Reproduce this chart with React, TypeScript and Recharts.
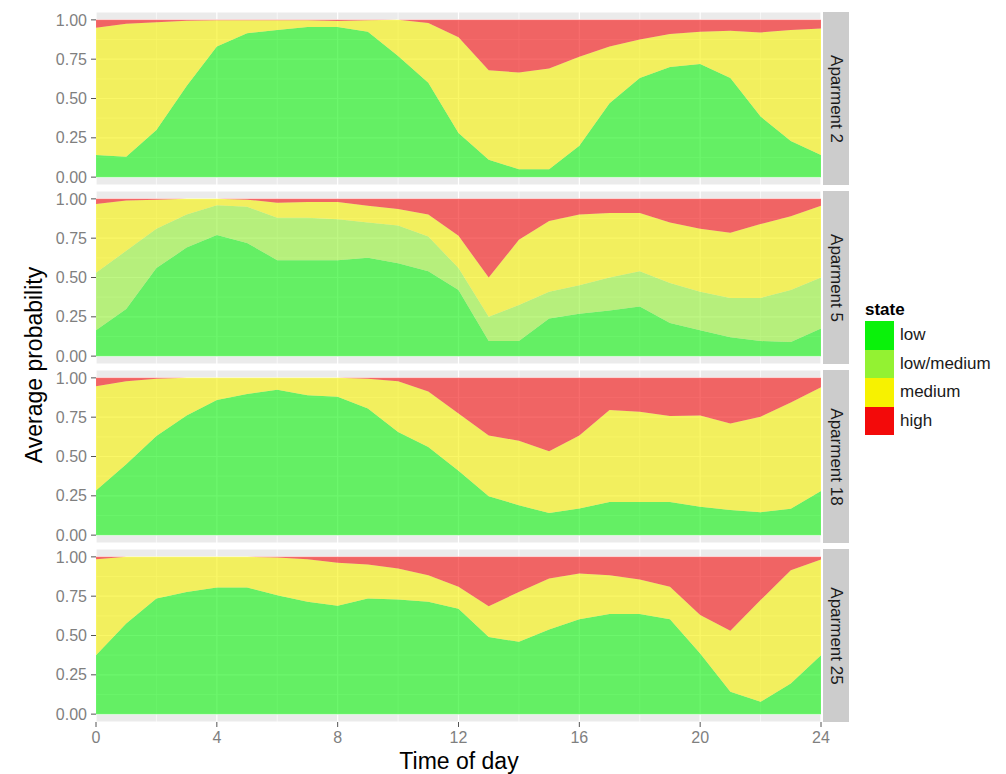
import React from "react";
import { Area, AreaChart, CartesianGrid, XAxis, YAxis } from "recharts";

const hours = [0, 1, 2, 3, 4, 5, 6, 7, 8, 9, 10, 11, 12, 13, 14, 15, 16, 17, 18, 19, 20, 21, 22, 23, 24];

// Aparment 2
const lowA2 = [0.14, 0.13, 0.3, 0.58, 0.83, 0.915, 0.935, 0.955, 0.955, 0.925, 0.77, 0.6, 0.28, 0.11, 0.05, 0.05, 0.2, 0.47, 0.63, 0.7, 0.72, 0.63, 0.385, 0.23, 0.14];
const lowMedA2 = [0, 0, 0, 0, 0, 0, 0, 0, 0, 0, 0, 0, 0, 0, 0, 0, 0, 0, 0, 0, 0, 0, 0, 0, 0];
const mediumA2 = [0.81, 0.845, 0.685, 0.415, 0.167, 0.083, 0.063, 0.043, 0.038, 0.073, 0.23, 0.38, 0.61, 0.57, 0.615, 0.64, 0.565, 0.36, 0.245, 0.21, 0.205, 0.3, 0.535, 0.705, 0.805];
const highA2 = [0.05, 0.025, 0.015, 0.005, 0.003, 0.002, 0.002, 0.002, 0.007, 0.002, 0, 0.02, 0.11, 0.32, 0.335, 0.31, 0.235, 0.17, 0.125, 0.09, 0.075, 0.07, 0.08, 0.065, 0.055];

// Aparment 5
const lowA5 = [0.165, 0.3, 0.56, 0.69, 0.77, 0.72, 0.61, 0.61, 0.61, 0.625, 0.59, 0.54, 0.42, 0.096, 0.096, 0.24, 0.27, 0.29, 0.315, 0.21, 0.165, 0.12, 0.096, 0.09, 0.175];
const lowMedA5 = [0.365, 0.37, 0.25, 0.21, 0.19, 0.23, 0.27, 0.27, 0.26, 0.225, 0.24, 0.22, 0.14, 0.154, 0.229, 0.17, 0.18, 0.21, 0.225, 0.255, 0.245, 0.25, 0.274, 0.33, 0.325];
const mediumA5 = [0.438, 0.32, 0.185, 0.1, 0.04, 0.045, 0.095, 0.1, 0.11, 0.107, 0.105, 0.14, 0.205, 0.25, 0.415, 0.45, 0.45, 0.41, 0.37, 0.385, 0.4, 0.415, 0.47, 0.47, 0.457];
const highA5 = [0.032, 0.01, 0.005, 0, 0, 0.005, 0.025, 0.02, 0.02, 0.043, 0.065, 0.1, 0.235, 0.5, 0.26, 0.14, 0.1, 0.09, 0.09, 0.15, 0.19, 0.215, 0.16, 0.11, 0.043];

// Aparment 18
const lowA18 = [0.284, 0.45, 0.63, 0.76, 0.86, 0.897, 0.925, 0.89, 0.88, 0.806, 0.656, 0.56, 0.41, 0.247, 0.19, 0.14, 0.17, 0.21, 0.21, 0.21, 0.18, 0.16, 0.146, 0.168, 0.28];
const lowMedA18 = [0, 0, 0, 0, 0, 0, 0, 0, 0, 0, 0, 0, 0, 0, 0, 0, 0, 0, 0, 0, 0, 0, 0, 0, 0];
const mediumA18 = [0.662, 0.528, 0.364, 0.24, 0.14, 0.103, 0.075, 0.11, 0.12, 0.189, 0.322, 0.354, 0.364, 0.387, 0.41, 0.393, 0.464, 0.586, 0.575, 0.547, 0.58, 0.55, 0.607, 0.675, 0.66];
const highA18 = [0.054, 0.022, 0.006, 0, 0, 0, 0, 0, 0, 0.005, 0.022, 0.086, 0.226, 0.366, 0.4, 0.467, 0.366, 0.204, 0.215, 0.243, 0.24, 0.29, 0.247, 0.157, 0.06];

// Aparment 25
const lowA25 = [0.375, 0.576, 0.735, 0.777, 0.805, 0.805, 0.756, 0.714, 0.689, 0.735, 0.729, 0.714, 0.67, 0.49, 0.46, 0.538, 0.604, 0.636, 0.636, 0.604, 0.386, 0.142, 0.078, 0.195, 0.375];
const lowMedA25 = [0, 0, 0, 0, 0, 0, 0, 0, 0, 0, 0, 0, 0, 0, 0, 0, 0, 0, 0, 0, 0, 0, 0, 0, 0];
const mediumA25 = [0.61, 0.424, 0.265, 0.223, 0.195, 0.195, 0.24, 0.271, 0.273, 0.216, 0.197, 0.169, 0.14, 0.196, 0.317, 0.324, 0.29, 0.247, 0.22, 0.206, 0.244, 0.388, 0.647, 0.72, 0.608];
const highA25 = [0.015, 0, 0, 0, 0, 0, 0.004, 0.015, 0.038, 0.049, 0.074, 0.117, 0.19, 0.314, 0.223, 0.138, 0.106, 0.117, 0.144, 0.19, 0.37, 0.47, 0.275, 0.085, 0.017];

const xTicks = [0, 4, 8, 12, 16, 20, 24];
const xMinor = [2, 6, 10, 14, 18, 22];
const yTicks = [0, 0.25, 0.5, 0.75, 1];
const yMinor = [0.125, 0.375, 0.625, 0.875];

const states = ["low", "low/medium", "medium", "high"];
const stateKeys = ["low", "lowmed", "medium", "high"];
const stateColors = ["#0af20a", "#93f232", "#f7f200", "#f30a0a"];

const panels = [
  { label: "Aparment 2", low: lowA2, lowmed: lowMedA2, medium: mediumA2, high: highA2 },
  { label: "Aparment 5", low: lowA5, lowmed: lowMedA5, medium: mediumA5, high: highA5 },
  { label: "Aparment 18", low: lowA18, lowmed: lowMedA18, medium: mediumA18, high: highA18 },
  { label: "Aparment 25", low: lowA25, lowmed: lowMedA25, medium: mediumA25, high: highA25 },
];

const FONT = "'Liberation Sans', Arial, Helvetica, sans-serif";
const PANEL_H = 173;
const PANEL_STEP = 179;
const PANEL_TOP = 12;
const CHART_W = 850;
const RIGHT_PAD = 29; // plot area ends at x = 821
const AXIS_H = 40;

function Panel({ panel, index, last }) {
  const data = hours.map((h, i) => ({
    h,
    low: panel.low[i],
    lowmed: panel.lowmed[i],
    medium: panel.medium[i],
    high: panel.high[i],
  }));
  const top = PANEL_TOP + index * PANEL_STEP;
  return (
    <div style={{ position: "absolute", left: 0, top }}>
      <AreaChart
        width={CHART_W}
        height={PANEL_H + (last ? AXIS_H : 0)}
        data={data}
        margin={{ top: 0, right: RIGHT_PAD, bottom: 0, left: 0 }}
      >
        <CartesianGrid fill="#ebebeb" stroke="#ffffff" strokeWidth={1.2} />
        <CartesianGrid
          fill="none"
          stroke="#ffffff"
          strokeWidth={0.6}
          verticalValues={xMinor}
          horizontalValues={yMinor}
        />
        <XAxis
          type="number"
          dataKey="h"
          domain={[0, 24]}
          ticks={xTicks}
          interval={0}
          hide={!last}
          height={last ? AXIS_H : 0}
          axisLine={false}
          tickSize={5}
          tickMargin={5}
          tickLine={{ stroke: "#555555" }}
          tick={{ fill: "#7f7f7f", fontSize: 16, fontFamily: FONT }}
        />
        <YAxis
          type="number"
          domain={[-0.05, 1.05]}
          allowDataOverflow
          ticks={yTicks}
          interval={0}
          width={96}
          axisLine={false}
          tickSize={5}
          tickMargin={4}
          tickLine={{ stroke: "#555555" }}
          tick={{ fill: "#7f7f7f", fontSize: 16, fontFamily: FONT }}
          tickFormatter={(v) => v.toFixed(2)}
        />
        {stateKeys.map((k, i) => (
          <Area
            key={k}
            type="linear"
            dataKey={k}
            stackId="s"
            stroke="none"
            fill={stateColors[i]}
            fillOpacity={0.6}
            isAnimationActive={false}
            activeDot={false}
          />
        ))}
      </AreaChart>
      <div
        style={{
          position: "absolute",
          left: 823,
          top: 0,
          width: 26,
          height: PANEL_H,
          background: "#cccccc",
        }}
      >
        <div
          style={{
            position: "absolute",
            left: 13,
            top: PANEL_H / 2,
            transform: "translate(-50%, -50%) rotate(90deg)",
            whiteSpace: "nowrap",
            fontFamily: FONT,
            fontSize: 17,
            color: "#1a1a1a",
          }}
        >
          {panel.label}
        </div>
      </div>
    </div>
  );
}

export default function App() {
  return (
    <div
      style={{
        position: "absolute",
        left: 0,
        top: 0,
        width: 1006,
        height: 774,
        background: "#ffffff",
        fontFamily: FONT,
      }}
    >
      {panels.map((p, i) => (
        <Panel key={p.label} panel={p} index={i} last={i === panels.length - 1} />
      ))}

      <div
        style={{
          position: "absolute",
          left: 34,
          top: 365,
          transform: "translate(-50%, -50%) rotate(-90deg)",
          whiteSpace: "nowrap",
          fontSize: 23,
          color: "#000000",
        }}
      >
        Average probability
      </div>
      <div
        style={{
          position: "absolute",
          left: 459,
          top: 761,
          transform: "translate(-50%, -50%)",
          whiteSpace: "nowrap",
          fontSize: 23,
          color: "#000000",
        }}
      >
        Time of day
      </div>

      <div style={{ position: "absolute", left: 865, top: 300 }}>
        <div style={{ fontWeight: "bold", fontSize: 17, lineHeight: "20px", marginBottom: 1 }}>state</div>
        {states.map((s, i) => (
          <div key={s} style={{ display: "flex", alignItems: "center", height: 28.5 }}>
            <div style={{ width: 29, height: 28.5, background: stateColors[i] }} />
            <span style={{ marginLeft: 6, fontSize: 17, color: "#1a1a1a" }}>{s}</span>
          </div>
        ))}
      </div>
    </div>
  );
}
